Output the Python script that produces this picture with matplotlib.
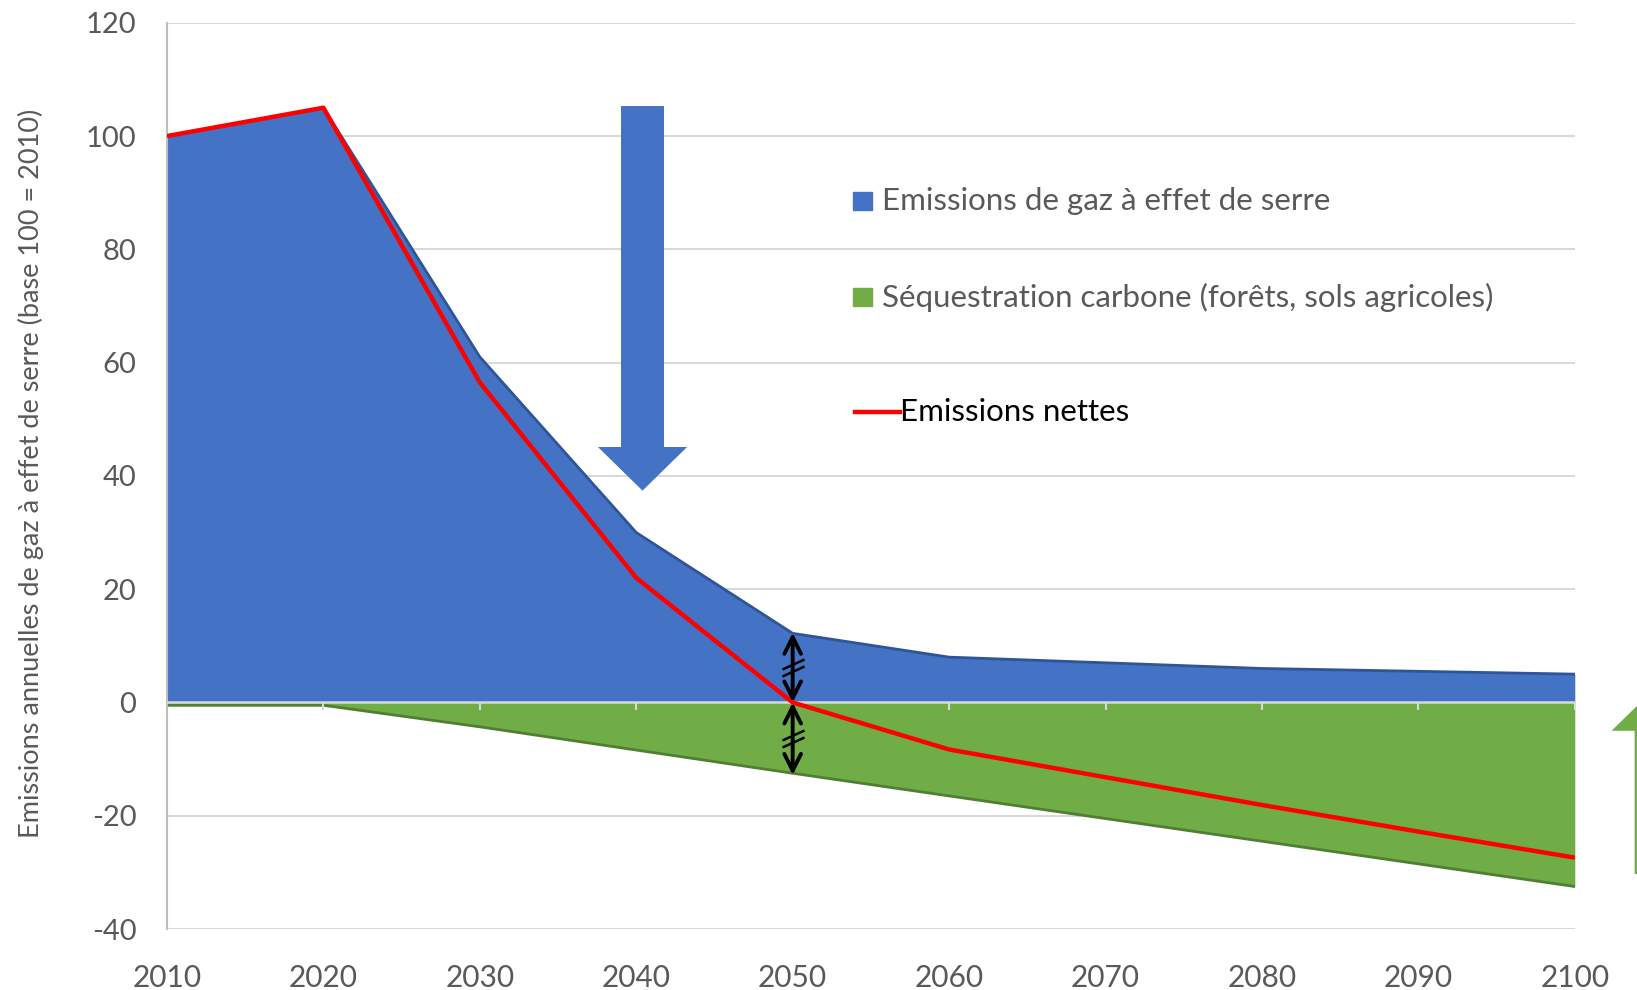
# Emissions de gaz à effet de serre et séquestration carbone, 2010-2100

import matplotlib
matplotlib.use('Agg')
import matplotlib.pyplot as plt
from matplotlib.patches import FancyArrow, Rectangle
from matplotlib.lines import Line2D
from matplotlib.markers import MarkerStyle
from matplotlib.transforms import Affine2D

plt.rcParams['font.family'] = ['Lato', 'DejaVu Sans']
plt.rcParams['axes.unicode_minus'] = False

# données
years = [2010, 2020, 2030, 2040, 2050, 2060, 2070, 2080, 2090, 2100]
emissions = [100, 105, 61, 30, 12.2, 8, 7, 6, 5.5, 5]
sequestration = [-0.5, -0.5, -4.3, -8.4, -12.5, -16.5, -20.5, -24.5, -28.5, -32.5]
net = [100, 105, 56.5, 22, 0, -8.3, -13.2, -18.1, -22.8, -27.4]
yticks = [-40, -20, 0, 20, 40, 60, 80, 100, 120]

label_ges = 'Emissions de gaz à effet de serre'
label_seq = 'Séquestration carbone (forêts, sols agricoles)'
label_net = 'Emissions nettes'
ylabel = 'Emissions annuelles de gaz à effet de serre (base 100 = 2010)'

blue = '#4472C4'
blue_edge = '#2F5597'
green = '#70AD47'
green_edge = '#507E32'
red = '#FF0000'
grey = '#595959'

fig = plt.figure(figsize=(16.37, 9.90), dpi=100)
ax = fig.add_axes([0.102, 0.0616, 0.860, 0.9154])

ax.fill_between(years, 0, emissions, color=blue, lw=0, zorder=2)
ax.plot(years, emissions, color=blue_edge, lw=2, zorder=2)
ax.fill_between(years, sequestration, 0, color=green, lw=0, zorder=2)
ax.plot(years, sequestration, color=green_edge, lw=2, zorder=2)
ax.plot(years, net, color=red, lw=3.2, zorder=5, solid_capstyle='butt')

# axe des x à zéro avec petites graduations
ax.axhline(0, color='#D9D9D9', lw=1.8, zorder=3)
ax.vlines(years[1:], -1.4, 0, color='#D9D9D9', lw=1.5, zorder=3)

ax.set_xlim(2010, 2100)
ax.set_ylim(-40, 120)
ax.set_xticks(years)
ax.set_yticks(yticks)
ax.grid(axis='y', color='#D9D9D9', lw=1.5, zorder=0)
ax.set_axisbelow(True)
for s in ['top', 'right', 'bottom']:
    ax.spines[s].set_visible(False)
ax.spines['left'].set_color('#BFBFBF')
ax.spines['left'].set_linewidth(1.5)
ax.tick_params(axis='x', length=0, pad=25, labelsize=21.5, labelcolor=grey)
ax.tick_params(axis='y', length=0, pad=22, labelsize=21, labelcolor=grey)

fig.text(0.019, 0.522, ylabel, rotation=90, ha='center', va='center',
         fontsize=19.5, color=grey)

# flèche bleue vers le bas
ax.add_patch(FancyArrow(2040.4, 105.3, 0, -67.9, width=2.75, head_width=5.7,
                        head_length=7.7, length_includes_head=True,
                        color=blue, lw=0, zorder=4))
# flèche verte vers le haut (coupée au bord)
ax.add_patch(FancyArrow(2105.2, -30.3, 0, 33.0, width=2.75, head_width=5.7,
                        head_length=7.7, length_includes_head=True,
                        color=green, lw=0, zorder=4, clip_on=False))

# doubles flèches en 2050 avec marques de coupure
hash_marker = MarkerStyle('_', transform=Affine2D().rotate_deg(25))
for y0, y1 in [(0, 12.3), (0, -12.8)]:
    ax.annotate('', xy=(2050, y1), xytext=(2050, y0),
                arrowprops=dict(arrowstyle='<->', color='black', lw=2.8,
                                mutation_scale=30, shrinkA=0, shrinkB=0),
                zorder=6)
    ym = (y0 + y1) / 2
    ax.plot([2050, 2050], [ym + 0.65, ym - 0.65], ls='none',
            marker=hash_marker, ms=17, mew=1.8, color='black', zorder=6)

# légende dessinée à la main
items = [(0.797, blue, label_ges, grey), (0.700, green, label_seq, grey)]
for y, c, txt, tc in items:
    fig.patches.append(Rectangle((0.521, y - 0.0091), 0.0116, 0.0182,
                                 transform=fig.transFigure, color=c))
    fig.text(0.5385, y, txt, fontsize=22.5, color=tc, va='center')
fig.lines.append(Line2D([0.5223, 0.5498], [0.584, 0.584],
                        transform=fig.transFigure, color=red, lw=3.2))
fig.text(0.5495, 0.584, label_net, fontsize=22.5, color='black', va='center')

fig.savefig('out.png', dpi=100)
